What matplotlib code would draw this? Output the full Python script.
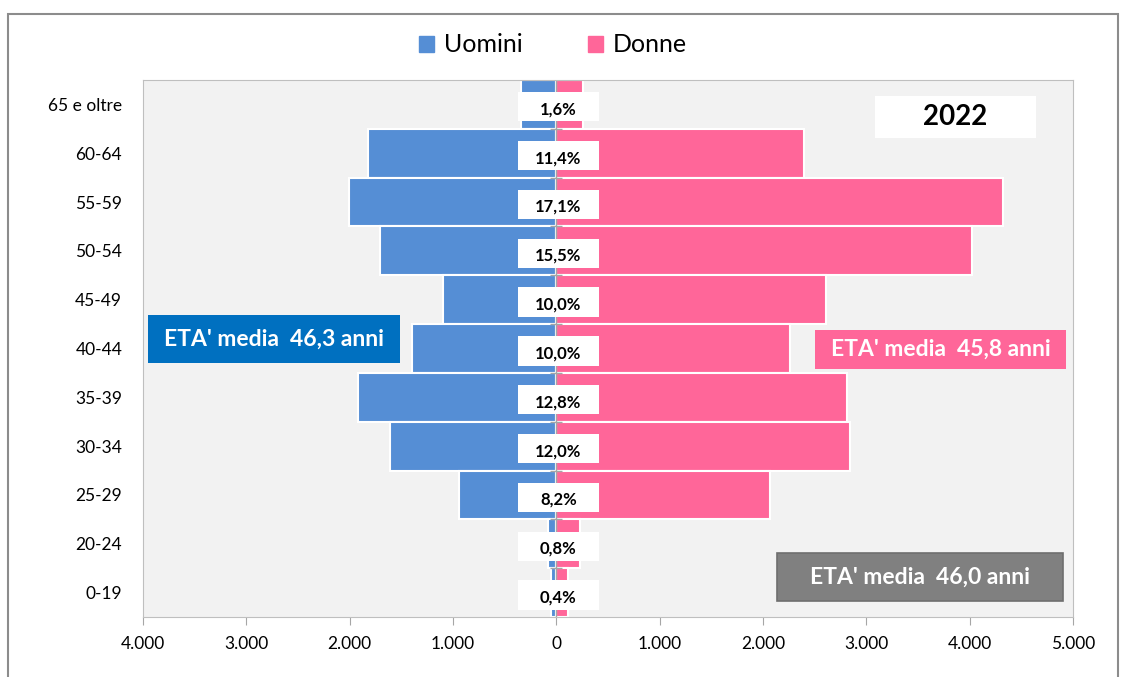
import numpy as np
import matplotlib
matplotlib.use("Agg")
import matplotlib.pyplot as plt
from matplotlib.patches import Rectangle, Patch
from matplotlib.ticker import FuncFormatter

plt.rcParams['font.family'] = ['Lato', 'DejaVu Sans']

# dati (dall'alto verso il basso)
classi = ["65 e oltre", "60-64", "55-59", "50-54", "45-49", "40-44",
          "35-39", "30-34", "25-29", "20-24", "0-19"]
uomini = [340, 1820, 2010, 1710, 1100, 1400, 1915, 1605, 940, 80, 50]
donne = [260, 2400, 4325, 4025, 2605, 2265, 2815, 2845, 2070, 225, 115]
perc = ["1,6%", "11,4%", "17,1%", "15,5%", "10,0%", "10,0%",
        "12,8%", "12,0%", "8,2%", "0,8%", "0,4%"]
eta_uomini = "ETA' media  46,3 anni"
eta_donne = "ETA' media  45,8 anni"
eta_totale = "ETA' media  46,0 anni"
anno = "2022"

col_u = "#558ED5"
col_d = "#FF6699"
W, H = 1132, 677

fig = plt.figure(figsize=(W / 100, H / 100), dpi=100)
ax = fig.add_axes([143 / W, 1 - 617 / H, (1073 - 143) / W, (617 - 80) / H])
ax.set_facecolor("#F2F2F2")

y = np.arange(len(classi))[::-1]
ax.barh(y, -np.array(uomini), height=1.0, color=col_u, edgecolor="white", linewidth=1.5)
ax.barh(y, donne, height=1.0, color=col_d, edgecolor="white", linewidth=1.5)

ax.set_xlim(-4000, 5000)
ax.set_ylim(-0.5, len(classi) - 0.5)
ax.set_xticks(np.arange(-4000, 5001, 1000))
ax.xaxis.set_major_formatter(FuncFormatter(lambda v, p: f"{abs(int(v)):,}".replace(",", ".")))
ax.set_yticks(y)
ax.set_yticklabels(classi)
ax.tick_params(axis="y", length=0, pad=15, labelsize=12.5)
ax.tick_params(axis="x", length=6, color="#A6A6A6", pad=8, labelsize=12.5)
for s in ax.spines.values():
    s.set_color("#BFBFBF")

# asse centrale con tacche
ax.axvline(0, color="#A6A6A6", lw=1)
ax.plot(np.zeros(len(classi) - 1), y[:-1] - 0.5, ls="none", marker="_", ms=8,
        color="#A6A6A6", mew=1)

# etichette percentuali su riquadro bianco
for yi, t in zip(y, perc):
    ax.add_patch(Rectangle((-370, yi - 0.35), 780, 0.6, fc="white", ec="none", zorder=3))
    ax.text(20, yi - 0.1, t, ha="center", va="center", fontsize=12,
            fontweight="bold", zorder=4)

# legenda
handles = [Patch(color=col_u, label="Uomini"), Patch(color=col_d, label="Donne")]
fig.legend(handles=handles, loc="center", bbox_to_anchor=(553 / W, 1 - 45 / H), ncol=2,
           frameon=False, fontsize=18, handlelength=0.6, handleheight=0.6,
           handletextpad=0.4, columnspacing=2.6)


def box(x0, y0, x1, y1, fc, testo, col, size, ec="none"):
    fig.add_artist(Rectangle((x0 / W, 1 - y1 / H), (x1 - x0) / W, (y1 - y0) / H,
                             transform=fig.transFigure, fc=fc, ec=ec, lw=1.2))
    fig.text((x0 + x1) / 2 / W, 1 - (y0 + y1) / 2 / H, testo, ha="center", va="center",
             color=col, fontsize=size, fontweight="bold")


box(148, 315, 400, 363, "#0070C0", eta_uomini, "white", 16.5)
box(815, 330, 1066, 369, col_d, eta_donne, "white", 16.5)
box(777, 553, 1063, 601, "#808080", eta_totale, "white", 16.5, ec="#6E6E6E")
box(875, 96, 1036, 138, "white", anno, "black", 20)

# cornice esterna
fig.add_artist(Rectangle((8 / W, -0.01), 1110 / W, 1 - 14 / H + 0.01,
                         transform=fig.transFigure, fill=False, ec="#8C8C8C", lw=1.5))

fig.savefig("out.png", dpi=100)
